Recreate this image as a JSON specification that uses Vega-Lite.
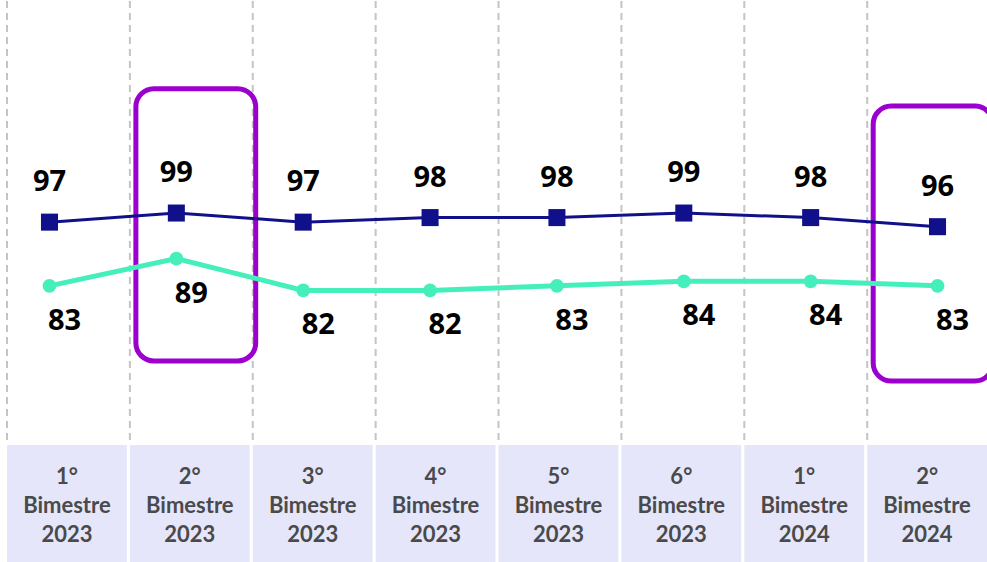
{
  "$schema": "https://vega.github.io/schema/vega-lite/v6.json",
  "padding": 0,
  "background": "white",
  "config": {"view": {"stroke": null}, "concat": {"spacing": 3}},
  "datasets": {
    "periodos": [
      {"periodo": "1° Bimestre 2023"},
      {"periodo": "2° Bimestre 2023"},
      {"periodo": "3° Bimestre 2023"},
      {"periodo": "4° Bimestre 2023"},
      {"periodo": "5° Bimestre 2023"},
      {"periodo": "6° Bimestre 2023"},
      {"periodo": "1° Bimestre 2024"},
      {"periodo": "2° Bimestre 2024"}
    ],
    "destaques": [
      {"periodo": "2° Bimestre 2023", "topo": 126.3, "base": 66.5},
      {"periodo": "2° Bimestre 2024", "topo": 122.5, "base": 62.1}
    ],
    "series": [
      {"periodo": "1° Bimestre 2023", "serie": "Série 1", "valor": 97},
      {"periodo": "2° Bimestre 2023", "serie": "Série 1", "valor": 99},
      {"periodo": "3° Bimestre 2023", "serie": "Série 1", "valor": 97},
      {"periodo": "4° Bimestre 2023", "serie": "Série 1", "valor": 98},
      {"periodo": "5° Bimestre 2023", "serie": "Série 1", "valor": 98},
      {"periodo": "6° Bimestre 2023", "serie": "Série 1", "valor": 99},
      {"periodo": "1° Bimestre 2024", "serie": "Série 1", "valor": 98},
      {"periodo": "2° Bimestre 2024", "serie": "Série 1", "valor": 96},
      {"periodo": "1° Bimestre 2023", "serie": "Série 2", "valor": 83},
      {"periodo": "2° Bimestre 2023", "serie": "Série 2", "valor": 89},
      {"periodo": "3° Bimestre 2023", "serie": "Série 2", "valor": 82},
      {"periodo": "4° Bimestre 2023", "serie": "Série 2", "valor": 82},
      {"periodo": "5° Bimestre 2023", "serie": "Série 2", "valor": 83},
      {"periodo": "6° Bimestre 2023", "serie": "Série 2", "valor": 84},
      {"periodo": "1° Bimestre 2024", "serie": "Série 2", "valor": 84},
      {"periodo": "2° Bimestre 2024", "serie": "Série 2", "valor": 83}
    ]
  },
  "vconcat": [
    {
      "width": 987,
      "height": 440,
      "layer": [
        {
          "data": {"name": "periodos"},
          "mark": {"type": "rule", "color": "#c4c4c4", "strokeWidth": 2, "strokeDash": [7, 5]},
          "encoding": {
            "x": {"field": "periodo", "type": "nominal", "sort": null, "bandPosition": 0,
                  "scale": {"type": "band", "range": [7, 987], "paddingInner": 0.025, "paddingOuter": 0}, "axis": null}
          }
        },
        {
          "data": {"name": "destaques"},
          "mark": {"type": "rect", "fill": null, "fillOpacity": 0, "stroke": "#9b00cf", "strokeWidth": 5, "cornerRadius": 18, "xOffset": 6, "x2Offset": 2},
          "encoding": {
            "x": {"field": "periodo", "type": "nominal", "sort": ["1° Bimestre 2023","2° Bimestre 2023","3° Bimestre 2023","4° Bimestre 2023","5° Bimestre 2023","6° Bimestre 2023","1° Bimestre 2024","2° Bimestre 2024"],
                  "scale": {"type": "band", "domain": ["1° Bimestre 2023","2° Bimestre 2023","3° Bimestre 2023","4° Bimestre 2023","5° Bimestre 2023","6° Bimestre 2023","1° Bimestre 2024","2° Bimestre 2024"], "range": [7, 987], "paddingInner": 0.025, "paddingOuter": 0}, "axis": null},
            "y": {"field": "topo", "type": "quantitative", "scale": {"domain": [48.9, 145.6], "zero": false, "nice": false}, "axis": null},
            "y2": {"field": "base"}
          }
        },
        {
          "data": {"name": "series"},
          "encoding": {
            "x": {"field": "periodo", "type": "nominal", "sort": null, "scale": {"type": "point", "padding": 0.39}, "axis": null},
            "y": {"field": "valor", "type": "quantitative", "scale": {"domain": [48.9, 145.6], "zero": false, "nice": false}, "axis": null},
            "color": {"field": "serie", "type": "nominal", "scale": {"domain": ["Série 1", "Série 2"], "range": ["#10108a", "#45efbb"]}, "legend": null}
          },
          "layer": [
            {
              "mark": {"type": "line"},
              "encoding": {
                "strokeWidth": {"field": "serie", "type": "nominal", "scale": {"domain": ["Série 1", "Série 2"], "range": [3, 5]}, "legend": null}
              }
            },
            {
              "mark": {"type": "point", "filled": true, "opacity": 1},
              "encoding": {
                "shape": {"field": "serie", "type": "nominal", "scale": {"domain": ["Série 1", "Série 2"], "range": ["square", "circle"]}, "legend": null},
                "size": {"field": "serie", "type": "nominal", "scale": {"domain": ["Série 1", "Série 2"], "range": [290, 190]}, "legend": null}
              }
            },
            {
              "transform": [{"filter": "datum.serie === 'Série 1'"}],
              "mark": {"type": "text", "font": "Open Sans", "fontSize": 29, "fontWeight": "bold", "baseline": "middle", "dy": -40},
              "encoding": {"text": {"field": "valor", "type": "quantitative"}, "color": {"value": "#000000"}}
            },
            {
              "transform": [{"filter": "datum.serie === 'Série 2'"}],
              "mark": {"type": "text", "font": "Open Sans", "fontSize": 29, "fontWeight": "bold", "baseline": "middle", "dy": 35, "dx": 15},
              "encoding": {"text": {"field": "valor", "type": "quantitative"}, "color": {"value": "#000000"}}
            }
          ]
        }
      ],
      "resolve": {"scale": {"x": "independent"}}
    },
    {
      "width": 987,
      "height": 117,
      "data": {"name": "periodos"},
      "encoding": {
        "x": {"field": "periodo", "type": "nominal", "sort": null,
              "scale": {"type": "band", "range": [7, 987], "paddingInner": 0.025, "paddingOuter": 0}, "axis": null}
      },
      "layer": [
        {"mark": {"type": "rect", "color": "#e6e6fa"}},
        {
          "mark": {"type": "text", "lineBreak": " ", "font": "Lato", "fontSize": 22, "fontWeight": "bold", "color": "#4a4a4a", "lineHeight": 29, "baseline": "middle", "dy": -27},
          "encoding": {"text": {"field": "periodo", "type": "nominal"}}
        }
      ]
    }
  ]
}
